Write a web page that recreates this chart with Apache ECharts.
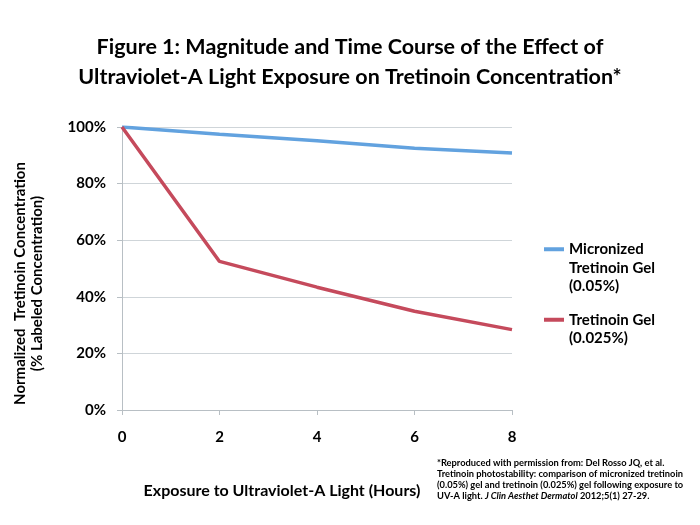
<!DOCTYPE html>
<html>
<head>
<meta charset="utf-8">
<script src="https://cdn.jsdelivr.net/npm/echarts@6/dist/echarts.min.js"></script>
<style>
  html, body { margin: 0; padding: 0; background: #fff; }
  #chart { width: 700px; height: 525px; }
</style>
</head>
<body>
<div id="chart"></div>
<script>
// hours of UV-A exposure
const hours = ['0', '2', '4', '6', '8']
// % of labeled concentration
const micronized = [100, 97.4, 95.1, 92.5, 90.8]
const tretinoin = [100, 52.5, 43.4, 34.9, 28.4]
const seriesNames = ['Micronized Tretinoin Gel (0.05%)', 'Tretinoin Gel (0.025%)']
// 前面的空行让图标对齐第一行文字
const legendLabels = ['\n\nMicronized\nTretinoin Gel\n(0.05%)', '\nTretinoin Gel\n(0.025%)']

const FONT = 'Lato, "Open Sans", sans-serif'
const chart = echarts.init(document.getElementById('chart'))

const legendText = { fontFamily: FONT, fontSize: 15, fontWeight: 'bold', color: '#000', lineHeight: 18.5 }

chart.setOption({
  backgroundColor: '#fff',
  color: ['#62a2df', '#c54a5c'],
  title: {
    text: 'Figure 1: Magnitude and Time Course of the Effect of\nUltraviolet-A Light Exposure on Tretinoin Concentration*',
    left: 'center',
    top: 27,
    textStyle: { fontFamily: FONT, fontSize: 21.5, fontWeight: 'bold', color: '#000', lineHeight: 30 }
  },
  // 图例拆成两个，多行文字时方便对齐图标
  legend: [
    {
      orient: 'vertical',
      left: 544,
      top: 203,
      padding: 0,
      icon: 'rect',
      itemWidth: 20,
      itemHeight: 4,
      data: [seriesNames[0]],
      formatter: () => legendLabels[0],
      textStyle: legendText
    },
    {
      orient: 'vertical',
      left: 544,
      top: 292,
      padding: 0,
      icon: 'rect',
      itemWidth: 20,
      itemHeight: 4,
      data: [seriesNames[1]],
      formatter: () => legendLabels[1],
      textStyle: legendText
    }
  ],
  grid: {
    left: 122,
    right: 188,
    top: 127,
    bottom: 115
  },
  xAxis: {
    type: 'category',
    boundaryGap: false,
    data: hours,
    name: 'Exposure to Ultraviolet-A Light (Hours)',
    nameLocation: 'middle',
    nameGap: 73,
    nameTextStyle: { fontFamily: FONT, fontSize: 16, fontWeight: 'bold', color: '#000', padding: [0, 70, 0, 0] },
    axisLine: { lineStyle: { color: '#b8bfc4', width: 1 } },
    axisTick: { show: true, length: 5, lineStyle: { color: '#b8bfc4' } },
    axisLabel: { fontFamily: FONT, fontSize: 15, fontWeight: 'bold', color: '#000', margin: 20 }
  },
  yAxis: {
    type: 'value',
    min: 0,
    max: 100,
    interval: 20,
    name: 'Normalized  Tretinoin Concentration\n(% Labeled Concentration)',
    nameLocation: 'middle',
    nameGap: 76,
    nameTextStyle: { fontFamily: FONT, fontSize: 15, fontWeight: 'bold', color: '#000', lineHeight: 17, padding: [0, 30, 0, 0] },
    axisLine: { show: true, lineStyle: { color: '#b8bfc4', width: 1 } },
    axisTick: { show: true, length: 5, lineStyle: { color: '#b8bfc4' } },
    splitLine: { lineStyle: { color: '#cfd5d9', width: 1 } },
    axisLabel: { fontFamily: FONT, fontSize: 15, fontWeight: 'bold', color: '#000', margin: 16, formatter: '{value}%' }
  },
  graphic: [
    {
      type: 'text',
      left: 437,
      top: 458,
      style: {
        text: '*Reproduced with permission from: Del Rosso JQ, et al.\n' +
          'Tretinoin photostability: comparison of micronized tretinoin\n' +
          '(0.05%) gel and tretinoin (0.025%) gel following exposure to\n' +
          'UV-A light. {i|J Clin Aesthet Dermatol} 2012;5(1) 27-29.',
        font: 'bold 9.3px Lato, sans-serif',
        fill: '#000',
        lineHeight: 10.8,
        rich: {
          i: { fontFamily: FONT, fontSize: 9.3, fontWeight: 'bold', fontStyle: 'italic', fill: '#000' }
        }
      }
    }
  ],
  series: [
    {
      name: seriesNames[0],
      type: 'line',
      symbol: 'none',
      data: micronized,
      lineStyle: { width: 3.5 }
    },
    {
      name: seriesNames[1],
      type: 'line',
      symbol: 'none',
      data: tretinoin,
      lineStyle: { width: 3.5 }
    }
  ]
})
</script>
</body>
</html>
